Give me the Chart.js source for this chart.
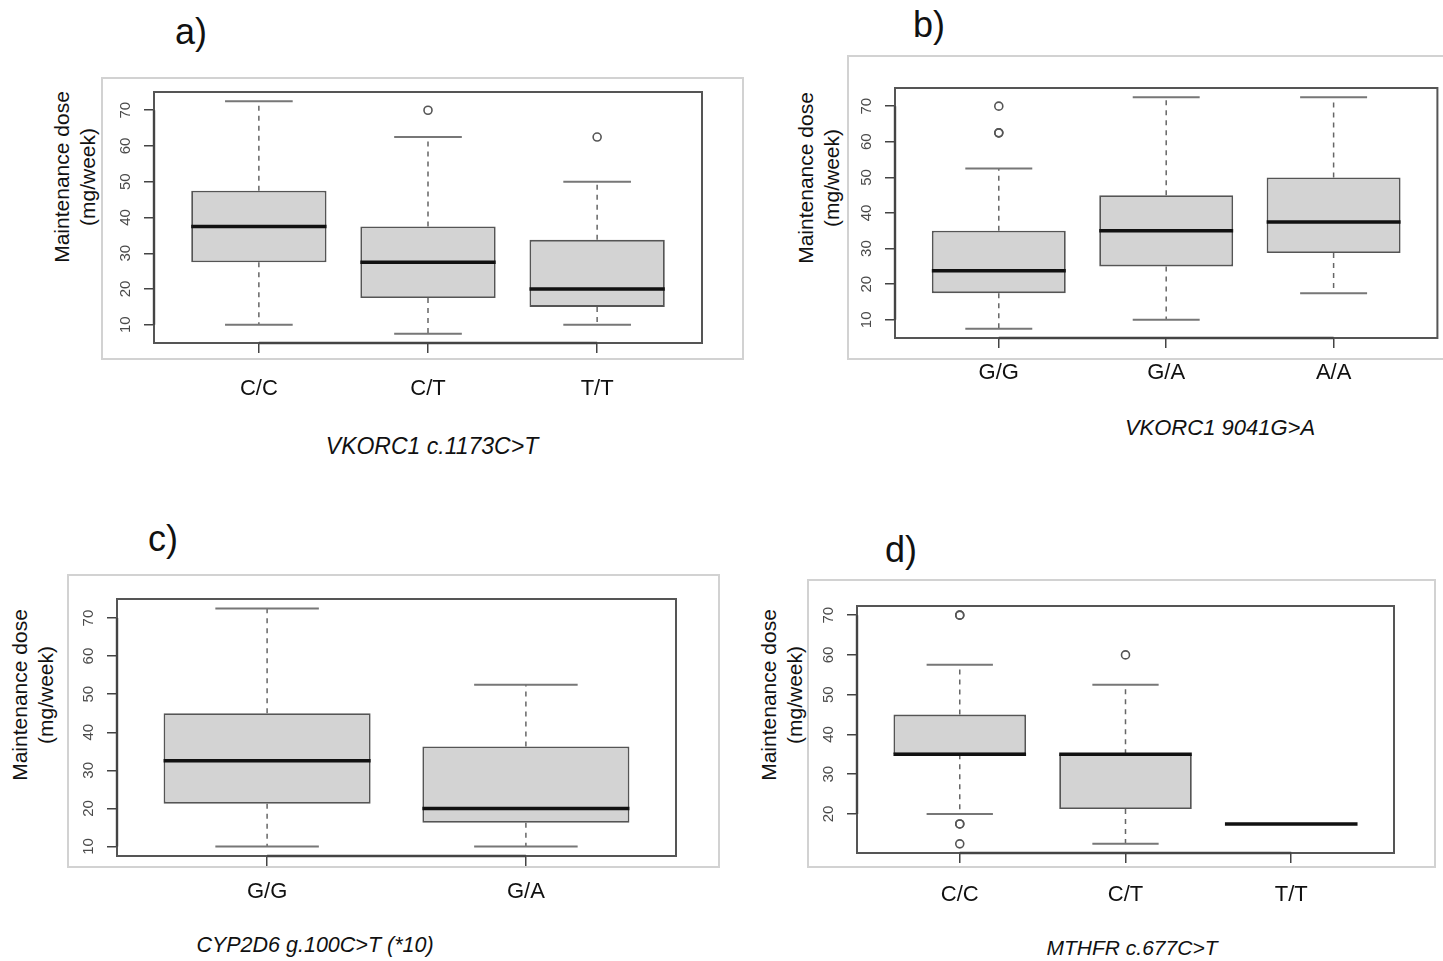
<!DOCTYPE html>
<html>
<head>
<meta charset="utf-8">
<script src="https://cdn.jsdelivr.net/npm/chart.js@4.4.1/dist/chart.umd.min.js"></script>
<style>
  html, body { margin: 0; padding: 0; background: #fff; overflow: hidden; }
  body { width: 1443px; height: 961px; position: relative; font-family: 'Liberation Sans', Arial, sans-serif; color: #111; }
  .frame { position: absolute; border: 2px solid #d2d2d2; box-sizing: border-box; }
  canvas { position: absolute; }
  .letter { position: absolute; font-size: 36px; line-height: 1; transform: translateY(-50%); white-space: nowrap; }
  .ytitle { position: absolute; font-size: 21px; line-height: 26px; text-align: center; white-space: nowrap;
            transform: translate(-50%, -50%) rotate(-90deg); }
  .xtitle { position: absolute; font-style: italic; white-space: nowrap; transform: translate(-50%, -50%); }
</style>
</head>
<body>
<div class="frame" style="left:101px;top:77px;width:643px;height:283px"></div>
<div class="frame" style="left:847px;top:55px;width:620px;height:305px"></div>
<div class="frame" style="left:67px;top:574px;width:653px;height:294px"></div>
<div class="frame" style="left:807px;top:579px;width:629px;height:289px"></div>

<div class="letter" style="left:175px;top:32px">a)</div>
<div class="letter" style="left:913px;top:25px">b)</div>
<div class="letter" style="left:148px;top:539px">c)</div>
<div class="letter" style="left:885px;top:550px">d)</div>

<div class="ytitle" style="left:75px;top:177px">Maintenance dose<br>(mg/week)</div>
<div class="ytitle" style="left:819px;top:178px">Maintenance dose<br>(mg/week)</div>
<div class="ytitle" style="left:33px;top:695px">Maintenance dose<br>(mg/week)</div>
<div class="ytitle" style="left:782px;top:695px">Maintenance dose<br>(mg/week)</div>

<div class="xtitle" style="left:432px;top:446px;font-size:23px">VKORC1 c.1173C&gt;T</div>
<div class="xtitle" style="left:1220px;top:428px;font-size:22px">VKORC1 9041G&gt;A</div>
<div class="xtitle" style="left:315px;top:945px;font-size:21.5px">CYP2D6 g.100C&gt;T (*10)</div>
<div class="xtitle" style="left:1132px;top:948px;font-size:21px">MTHFR c.677C&gt;T</div>

<script>
// a) VKORC1 c.1173C>T
const catsA = ['C/C', 'C/T', 'T/T'];
const lowerA = [10, 7.5, 10];
const q1A = [27.5, 17.5, 15];
const medianA = [37.5, 27.5, 20];
const q3A = [47.5, 37.5, 33.75];
const upperA = [72.5, 62.5, 50];
const outliersA = [[], [70], [62.5]];

// b) VKORC1 9041G>A
const catsB = ['G/G', 'G/A', 'A/A'];
const lowerB = [7.5, 10, 17.5];
const q1B = [17.5, 25, 28.75];
const medianB = [23.75, 35, 37.5];
const q3B = [35, 45, 50];
const upperB = [52.5, 72.5, 72.5];
const outliersB = [[70, 62.5, 62.5], [], []];

// c) CYP2D6 g.100C>T (*10)
const catsC = ['G/G', 'G/A'];
const lowerC = [10, 10];
const q1C = [21.25, 16.25];
const medianC = [32.5, 20];
const q3C = [45, 36.25];
const upperC = [72.5, 52.5];
const outliersC = [[], []];

// d) MTHFR c.677C>T
const catsD = ['C/C', 'C/T', 'T/T'];
const lowerD = [20, 12.5, 17.5];
const q1D = [35, 21.25, 17.5];
const medianD = [35, 35, 17.5];
const q3D = [45, 35, 17.5];
const upperD = [57.5, 52.5, 17.5];
const outliersD = [[70, 70, 17.5, 17.5, 12.5], [60], []];

Chart.defaults.font.family = "'Liberation Sans', Arial, sans-serif";

// whiskers, staples, medians and the plot frame, drawn through the chart scales
function boxplotParts(s) {
  return {
    id: 'boxplotParts',
    beforeDatasetsDraw(chart) {
      const { ctx, scales: { x, y } } = chart;
      const bars = chart.getDatasetMeta(0).data;
      ctx.save();
      s.median.forEach((m, i) => {
        const px = x.getPixelForValue(i + 1);
        const half = bars[i].width / 2;
        ctx.strokeStyle = '#666';
        ctx.lineWidth = 1.5;
        ctx.setLineDash([5, 5]);
        ctx.beginPath();
        ctx.moveTo(px, y.getPixelForValue(s.q3[i]));
        ctx.lineTo(px, y.getPixelForValue(s.upper[i]));
        ctx.moveTo(px, y.getPixelForValue(s.q1[i]));
        ctx.lineTo(px, y.getPixelForValue(s.lower[i]));
        ctx.stroke();
        ctx.setLineDash([]);
        ctx.strokeStyle = '#777';
        ctx.lineWidth = 2;
        ctx.beginPath();
        [s.upper[i], s.lower[i]].forEach(v => {
          const py = y.getPixelForValue(v);
          ctx.moveTo(px - half / 2, py);
          ctx.lineTo(px + half / 2, py);
        });
        ctx.stroke();
      });
      ctx.restore();
    },
    afterDatasetsDraw(chart) {
      const { ctx, chartArea: a, scales: { x, y } } = chart;
      const bars = chart.getDatasetMeta(0).data;
      ctx.save();
      ctx.strokeStyle = '#111';
      ctx.lineWidth = 3.5;
      s.median.forEach((m, i) => {
        const px = x.getPixelForValue(i + 1);
        const half = bars[i].width / 2;
        const py = y.getPixelForValue(m);
        ctx.beginPath();
        ctx.moveTo(px - half, py);
        ctx.lineTo(px + half, py);
        ctx.stroke();
      });
      ctx.strokeStyle = '#555';
      ctx.lineWidth = 2;
      ctx.strokeRect(a.left, a.top, a.right - a.left, a.bottom - a.top);
      // axis lines between first and last tick, as R draws them
      const yt = y.ticks, xt = x.ticks;
      ctx.strokeStyle = '#444';
      ctx.lineWidth = 2.4;
      ctx.beginPath();
      ctx.moveTo(a.left, y.getPixelForValue(yt[0].value));
      ctx.lineTo(a.left, y.getPixelForValue(yt[yt.length - 1].value));
      ctx.moveTo(x.getPixelForValue(xt[0].value), a.bottom);
      ctx.lineTo(x.getPixelForValue(xt[xt.length - 1].value), a.bottom);
      ctx.stroke();
      ctx.restore();
    }
  };
}

function rRange(lo, hi) {
  const d = (hi - lo) * 0.04;
  return [lo - d, hi + d];
}

function makePanel(box, xLabelPad, cats, lower, q1, median, q3, upper, outliers) {
  const [L, T, R, B] = box;
  const padL = 64, padT = 20, yW = 50, xH = 60, padB = 40;
  const padR = Math.min(18, 1443 - R);
  const cx = L - yW - padL, cy = T - padT;
  const cw = R + padR - cx, ch = B + xH + padB - cy;

  const canvas = document.createElement('canvas');
  canvas.width = cw;
  canvas.height = ch;
  canvas.style.left = cx + 'px';
  canvas.style.top = cy + 'px';
  document.body.appendChild(canvas);

  const n = cats.length;
  const allOut = outliers.flat();
  const [yMin, yMax] = rRange(Math.min(...lower, ...allOut), Math.max(...upper, ...allOut));
  const tickGrid = { offset: false, drawOnChartArea: false, drawTicks: true, tickLength: 10, color: '#444', lineWidth: 1.5 };

  new Chart(canvas, {
    type: 'bar',
    data: {
      datasets: [
        {
          type: 'bar',
          data: cats.map((c, i) => ({ x: i + 1, y: [q1[i], q3[i]] })),
          backgroundColor: '#d3d3d3',
          borderColor: '#555',
          borderWidth: 1.8,
          borderSkipped: false,
          categoryPercentage: 0.8,
          barPercentage: 1,
        },
        {
          type: 'scatter',
          data: outliers.flatMap((list, i) => list.map(v => ({ x: i + 1, y: v }))),
          pointRadius: 4,
          pointBorderWidth: 1.6,
          pointBorderColor: '#555',
          pointBackgroundColor: 'rgba(0,0,0,0)',
          showLine: false,
        },
      ],
    },
    options: {
      responsive: false,
      animation: false,
      events: [],
      layout: { padding: { left: padL, top: padT, right: padR, bottom: padB } },
      plugins: { legend: { display: false }, tooltip: { enabled: false } },
      scales: {
        x: {
          type: 'linear',
          min: 0.5 - 0.04 * n,
          max: n + 0.5 + 0.04 * n,
          offset: false,
          afterBuildTicks: s => { s.ticks = cats.map((c, i) => ({ value: i + 1 })); },
          afterFit: s => { s.height = xH; },
          ticks: {
            autoSkip: false, minRotation: 0, maxRotation: 0, padding: xLabelPad,
            color: '#111', font: { size: 22 },
            callback: v => cats[v - 1],
          },
          grid: tickGrid,
          border: { display: false },
        },
        y: {
          type: 'linear',
          min: yMin,
          max: yMax,
          beginAtZero: false,
          afterFit: s => { s.width = yW; },
          ticks: {
            stepSize: 10, includeBounds: false, minRotation: 90, maxRotation: 90,
            crossAlign: 'center', padding: 10, color: '#4a4a4a', font: { size: 15 },
          },
          grid: tickGrid,
          border: { display: false },
        },
      },
    },
    plugins: [boxplotParts({ lower, q1, median, q3, upper })],
  });
}

makePanel([154, 92, 702, 343], 23, catsA, lowerA, q1A, medianA, q3A, upperA, outliersA);
makePanel([895, 88, 1440, 338], 12, catsB, lowerB, q1B, medianB, q3B, upperB, outliersB);
makePanel([117, 599, 676, 856], 13, catsC, lowerC, q1C, medianC, q3C, upperC, outliersC);
makePanel([857, 606, 1394, 853], 19, catsD, lowerD, q1D, medianD, q3D, upperD, outliersD);
</script>
</body>
</html>
